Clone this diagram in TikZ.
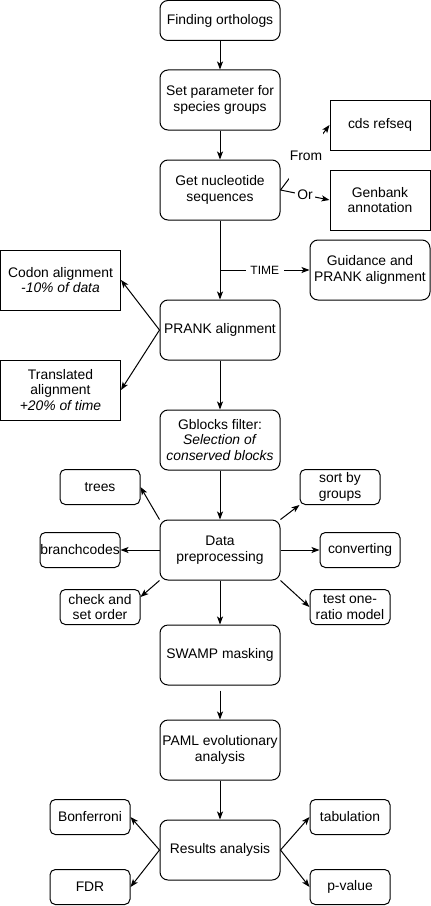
\documentclass[tikz,border=0pt]{standalone}
\usepackage{fontspec}
\setmainfont{Liberation Sans}
\usetikzlibrary{arrows.meta}
\begin{document}
\begin{tikzpicture}[x=0.75pt,y=-0.75pt,
  font=\fontsize{10.4}{11.8}\selectfont,
  box/.style={draw, line width=0.75pt, align=center, inner sep=0pt},
  rbox/.style={box, rounded corners=6pt},
  big/.style={rbox, minimum width=90pt, minimum height=45pt},
  sq/.style={box, minimum width=90pt, minimum height=45pt},
  small/.style={box, rounded corners=4pt, minimum width=60pt, minimum height=26.25pt},
  arr/.style={line width=0.75pt, -{Stealth[length=6pt,width=4.5pt,inset=1.5pt]}},
  lbl/.style={fill=white, inner sep=1.5pt}
]
\useasboundingbox (0,0) rectangle (431,906);

% main column
\node[big, minimum height=30pt] (find) at (220,20.5) {Finding orthologs};
\node[big] (setp) at (220,100) {Set parameter for\\species groups};
\node[big] (get) at (220,190) {Get nucleotide\\sequences};
\node[big] (prank) at (220,330) {PRANK alignment};
\node[big] (gblocks) at (220,440) {Gblocks filter:\\\textit{Selection of}\\\textit{conserved blocks}};
\node[big] (data) at (220,550) {Data\\preprocessing};
\node[big] (swamp) at (220,655) {SWAMP masking};
\node[big] (paml) at (220,750) {\makebox[0pt]{PAML evolutionary}\\analysis};
\node[big] (res) at (220,850) {Results analysis};

% right of get
\node[box, minimum width=75pt, minimum height=37.5pt] (cds) at (380,125) {cds refseq};
\node[box, minimum width=75pt, minimum height=45pt] (genb) at (380,200) {Genbank\\annotation};
\node[big] (guid) at (370,270) {Guidance and\\\makebox[0pt]{PRANK alignment}};

% alignment options
\node[sq] (codon) at (60.5,280) {\makebox[0pt]{Codon alignment}\\\textit{-10\% of data}};
\node[sq] (transl) at (60.5,390) {Translated\\alignment\\\textit{+20\% of time}};

% preprocessing satellites
\node[small] (trees) at (100,487) {trees};
\node[small] (sort) at (340,487) {sort by\\groups};
\node[small] (branch) at (80,550) {\makebox[0pt]{branchcodes}};
\node[small] (conv) at (360,550) {converting};
\node[small] (check) at (100,607) {check and\\set order};
\node[small] (test) at (350,607) {test one-\\\makebox[0pt]{ratio model}};

% results satellites
\node[small] (bonf) at (90,817) {Bonferroni};
\node[small] (fdr) at (90,887) {FDR};
\node[small] (tab) at (350,817) {tabulation};
\node[small] (pval) at (350,887) {p-value};

% main arrows
\draw[arr] (find) -- (setp);
\draw[arr] (setp) -- (get);
\draw[arr] (get) -- (prank);
\coordinate (tsplit) at (220,270);
\draw[arr] (tsplit) -- node[lbl, inner xsep=3.5pt, font=\fontsize{9}{10}\selectfont] {TIME} (guid.west);
\draw[arr] (prank) -- (gblocks);
\draw[arr] (gblocks) -- (data);
\draw[arr] (data) -- (swamp);
\draw[arr, shorten <=3.75pt] (swamp) -- (paml);
\draw[arr] (paml) -- (res);

% from / or
\draw[arr] (get.east) -- node[fill=white, inner sep=0pt, minimum width=25pt, minimum height=35pt, pos=0.52] {From} (cds.west);
\draw[arr] (get.east) -- node[lbl, inner xsep=2pt] {Or} (genb.west);

% prank options
\draw[arr] (prank.west) -- (codon.east);
\draw[arr] (prank.west) -- (transl.east);

% preprocessing
\draw[arr] (data.north west) -- (trees.east);
\draw[arr] (data.north east) -- (sort.south west);
\draw[arr] (data.west) -- (branch.east);
\draw[arr] (data.east) -- (conv.west);
\draw[arr] (data.south west) -- ([yshift=7.5pt]check.east);
\draw[arr] (data.south east) -- (test.west);

% results
\draw[arr] (res.west) -- (bonf.east);
\draw[arr] (res.west) -- (fdr.east);
\draw[arr] (res.east) -- (tab.west);
\draw[arr] (res.east) -- (pval.west);
\end{tikzpicture}
\end{document}
